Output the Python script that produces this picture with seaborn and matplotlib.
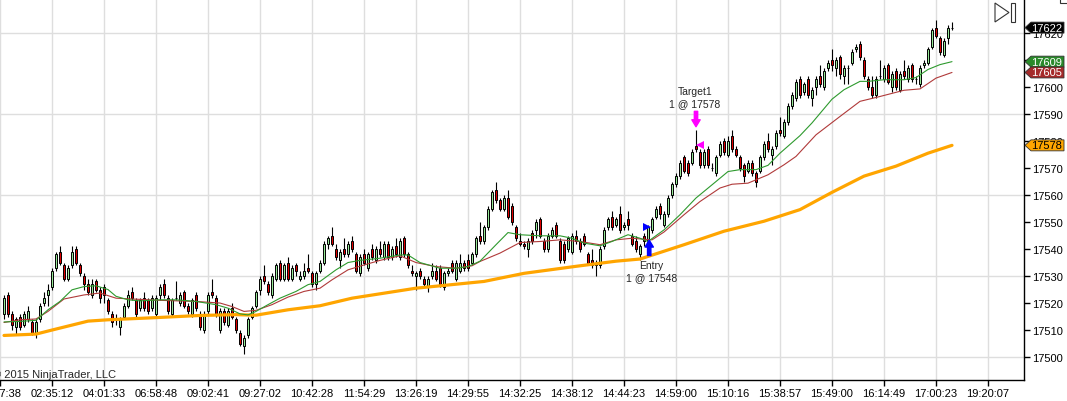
import matplotlib
matplotlib.use("Agg")
import matplotlib.pyplot as plt
import matplotlib.patches as mpatches
from matplotlib.transforms import blended_transform_factory
import numpy as np
import seaborn as sns

# OHLC per bar (YM futures, 1 point ticks)
opens = [
    17516, 17523, 17516, 17511, 17515, 17512, 17514, 17513, 17509, 17514,
    17520, 17523, 17526, 17533, 17539, 17534, 17529, 17534, 17540, 17534,
    17530, 17527, 17523, 17528, 17525, 17526, 17521, 17516, 17514, 17511,
    17515, 17519, 17524, 17521, 17518, 17522, 17521, 17518, 17516, 17523,
    17527, 17522, 17516, 17522, 17520, 17524, 17519, 17516, 17523, 17516,
    17510, 17517, 17524, 17522, 17510, 17517, 17512, 17518, 17514, 17509,
    17504, 17508, 17515, 17519, 17525, 17530, 17527, 17523, 17529, 17535,
    17529, 17535, 17529, 17534, 17529, 17530, 17533, 17531, 17527, 17532,
    17535, 17542, 17545, 17540, 17536, 17540, 17538, 17543, 17538, 17531,
    17538, 17533, 17540, 17536, 17540, 17537, 17542, 17537, 17541, 17537,
    17544, 17538, 17532, 17530, 17532, 17529, 17526, 17530, 17532, 17533,
    17526, 17531, 17535, 17529, 17532, 17535, 17536, 17535, 17538, 17545,
    17543, 17548, 17555, 17562, 17558, 17555, 17559, 17556, 17548, 17543,
    17542, 17540, 17546, 17547, 17551, 17543, 17540, 17545, 17549, 17543,
    17542, 17540, 17539, 17545, 17543, 17545, 17538, 17536, 17534, 17534,
    17541, 17548, 17552, 17549, 17553, 17548, 17551, 17545, 17543, 17538,
    17545, 17542, 17547, 17552, 17556, 17549, 17553, 17560, 17564, 17567,
    17574, 17572, 17572, 17578, 17576, 17571, 17577, 17570, 17568, 17575,
    17580, 17575, 17582, 17577, 17574, 17571, 17569, 17572, 17568, 17569,
    17574, 17580, 17575, 17578, 17584, 17582, 17587, 17593, 17596, 17603,
    17598, 17603, 17596, 17600, 17604, 17600, 17607, 17610, 17607, 17611,
    17604, 17607, 17609, 17614, 17616, 17610, 17603, 17600, 17597, 17604,
    17603, 17608, 17600, 17606, 17599, 17606, 17603, 17608, 17603, 17601,
    17608, 17609, 17615, 17622, 17618, 17612, 17618, 17622,
]
highs = [
    17523, 17524, 17517, 17515, 17516, 17517, 17519, 17514, 17514, 17520,
    17524, 17527, 17533, 17539, 17541, 17535, 17534, 17541, 17541, 17535,
    17531, 17529, 17529, 17529, 17526, 17527, 17522, 17517, 17516, 17515,
    17520, 17525, 17526, 17522, 17522, 17524, 17522, 17523, 17523, 17527,
    17529, 17523, 17522, 17528, 17524, 17525, 17520, 17522, 17524, 17517,
    17517, 17524, 17529, 17523, 17518, 17518, 17518, 17520, 17515, 17510,
    17508, 17515, 17519, 17525, 17530, 17534, 17528, 17531, 17535, 17536,
    17535, 17537, 17534, 17535, 17532, 17535, 17538, 17532, 17532, 17536,
    17543, 17545, 17548, 17542, 17540, 17544, 17543, 17545, 17539, 17538,
    17540, 17539, 17542, 17541, 17543, 17543, 17543, 17541, 17544, 17544,
    17545, 17539, 17534, 17532, 17533, 17530, 17530, 17535, 17534, 17534,
    17532, 17533, 17536, 17536, 17538, 17536, 17538, 17539, 17545, 17550,
    17549, 17556, 17562, 17565, 17559, 17560, 17562, 17557, 17549, 17546,
    17543, 17544, 17547, 17551, 17552, 17544, 17546, 17548, 17550, 17544,
    17543, 17545, 17546, 17547, 17544, 17546, 17539, 17540, 17536, 17541,
    17548, 17552, 17554, 17552, 17556, 17550, 17554, 17546, 17545, 17542,
    17546, 17549, 17552, 17556, 17557, 17554, 17560, 17565, 17568, 17573,
    17575, 17573, 17577, 17584, 17577, 17577, 17578, 17572, 17575, 17580,
    17581, 17582, 17584, 17578, 17575, 17572, 17573, 17573, 17569, 17575,
    17580, 17583, 17578, 17584, 17589, 17588, 17594, 17598, 17603, 17604,
    17602, 17604, 17600, 17604, 17608, 17607, 17610, 17614, 17611, 17612,
    17608, 17608, 17614, 17616, 17617, 17611, 17604, 17604, 17604, 17610,
    17608, 17609, 17606, 17607, 17606, 17610, 17608, 17609, 17604, 17608,
    17610, 17615, 17622, 17625, 17619, 17618, 17623, 17624,
]
lows = [
    17514, 17515, 17510, 17508, 17510, 17511, 17513, 17508, 17507, 17513,
    17519, 17519, 17525, 17532, 17534, 17528, 17528, 17533, 17534, 17530,
    17525, 17523, 17522, 17524, 17520, 17520, 17516, 17511, 17512, 17508,
    17514, 17518, 17521, 17515, 17517, 17517, 17516, 17517, 17515, 17521,
    17522, 17516, 17515, 17521, 17519, 17518, 17516, 17515, 17517, 17510,
    17509, 17516, 17522, 17515, 17509, 17512, 17511, 17514, 17509, 17504,
    17501, 17507, 17514, 17518, 17523, 17527, 17523, 17522, 17528, 17528,
    17528, 17528, 17528, 17530, 17528, 17529, 17531, 17526, 17525, 17531,
    17534, 17540, 17541, 17536, 17533, 17537, 17537, 17539, 17531, 17530,
    17534, 17532, 17536, 17535, 17537, 17536, 17536, 17536, 17537, 17536,
    17537, 17533, 17530, 17525, 17529, 17526, 17524, 17529, 17528, 17526,
    17525, 17530, 17531, 17528, 17531, 17532, 17532, 17534, 17537, 17542,
    17542, 17547, 17554, 17557, 17554, 17554, 17551, 17549, 17543, 17541,
    17540, 17537, 17542, 17544, 17544, 17539, 17539, 17544, 17544, 17535,
    17535, 17539, 17538, 17542, 17539, 17541, 17534, 17533, 17530, 17533,
    17540, 17547, 17547, 17548, 17546, 17547, 17547, 17541, 17539, 17536,
    17541, 17540, 17546, 17551, 17551, 17548, 17552, 17559, 17563, 17566,
    17568, 17567, 17571, 17576, 17570, 17570, 17570, 17569, 17567, 17574,
    17575, 17574, 17576, 17574, 17569, 17565, 17568, 17567, 17563, 17568,
    17573, 17576, 17571, 17577, 17582, 17581, 17586, 17592, 17595, 17596,
    17597, 17596, 17593, 17597, 17600, 17599, 17606, 17606, 17604, 17603,
    17601, 17601, 17608, 17613, 17610, 17603, 17599, 17596, 17596, 17603,
    17602, 17601, 17598, 17599, 17598, 17603, 17602, 17602, 17601, 17600,
    17607, 17608, 17614, 17618, 17612, 17611, 17616, 17621,
]
closes = [
    17522, 17516, 17512, 17514, 17511, 17516, 17517, 17509, 17513, 17519,
    17522, 17525, 17532, 17538, 17535, 17529, 17533, 17539, 17535, 17531,
    17527, 17524, 17527, 17525, 17522, 17523, 17517, 17513, 17514, 17514,
    17519, 17523, 17522, 17516, 17521, 17518, 17517, 17522, 17522, 17526,
    17523, 17517, 17521, 17522, 17523, 17519, 17517, 17521, 17518, 17511,
    17516, 17523, 17523, 17516, 17517, 17513, 17517, 17515, 17510, 17505,
    17507, 17514, 17518, 17524, 17529, 17528, 17524, 17530, 17534, 17529,
    17534, 17529, 17533, 17532, 17530, 17532, 17532, 17527, 17531, 17535,
    17542, 17544, 17542, 17537, 17539, 17538, 17542, 17540, 17532, 17537,
    17535, 17538, 17537, 17540, 17538, 17542, 17537, 17540, 17538, 17543,
    17538, 17534, 17531, 17531, 17530, 17527, 17529, 17532, 17529, 17527,
    17531, 17532, 17532, 17535, 17535, 17533, 17533, 17538, 17544, 17543,
    17548, 17555, 17561, 17558, 17555, 17559, 17552, 17550, 17544, 17542,
    17541, 17543, 17543, 17550, 17545, 17540, 17545, 17547, 17545, 17536,
    17536, 17544, 17545, 17543, 17540, 17542, 17535, 17534, 17535, 17540,
    17547, 17551, 17548, 17551, 17547, 17549, 17549, 17542, 17540, 17541,
    17543, 17548, 17551, 17555, 17553, 17553, 17559, 17564, 17567, 17572,
    17569, 17568, 17576, 17577, 17571, 17576, 17571, 17570, 17574, 17579,
    17576, 17580, 17577, 17575, 17570, 17567, 17572, 17568, 17565, 17574,
    17579, 17577, 17577, 17583, 17583, 17587, 17593, 17597, 17602, 17597,
    17601, 17597, 17599, 17603, 17601, 17606, 17609, 17608, 17610, 17605,
    17607, 17607, 17613, 17615, 17611, 17604, 17600, 17597, 17603, 17604,
    17607, 17602, 17605, 17600, 17605, 17604, 17607, 17603, 17603, 17607,
    17609, 17614, 17621, 17619, 17613, 17617, 17622, 17622,
]

# moving averages, sampled along each line
fast_bars = [0, 4, 8, 11, 14, 17, 20, 23, 26, 28, 31, 34, 39, 43, 48, 53, 56,
             59, 61, 63, 66, 69, 73, 76, 79, 83, 86, 89, 94, 99, 101, 104, 109,
             113, 116, 119, 123, 126, 129, 134, 139, 142, 145, 149, 152, 156,
             159, 161, 165, 169, 173, 178, 181, 184, 188, 191, 194, 199, 202,
             207, 210, 214, 216, 220, 225, 228, 231, 234, 237]
fast_vals = [17513.0, 17513.2, 17513.6, 17517.5, 17520.6, 17524.9, 17526.1,
             17526.4, 17525.0, 17522.5, 17521.2, 17520.8, 17521.2, 17521.2,
             17520.6, 17519.4, 17518.1, 17516.0, 17515.6, 17516.9, 17519.4,
             17521.8, 17524.3, 17526.8, 17528.0, 17532.3, 17535.0, 17535.8,
             17536.6, 17537.8, 17537.8, 17535.0, 17532.9, 17532.9, 17533.5,
             17535.5, 17541.6, 17546.1, 17545.3, 17544.9, 17544.9, 17544.0,
             17542.2, 17541.2, 17542.8, 17545.3, 17544.0, 17542.8, 17547.1,
             17552.7, 17558.9, 17565.0, 17568.7, 17569.4, 17569.4, 17571.0,
             17575.5, 17582.0, 17586.7, 17595.5, 17599.0, 17602.1, 17602.1,
             17602.7, 17602.7, 17603.5, 17606.5, 17608.3, 17609.4]

slow_bars = [0, 4, 8, 11, 15, 20, 24, 28, 32, 39, 48, 54, 57, 60, 63, 67, 71,
             75, 79, 82, 86, 90, 94, 99, 103, 108, 113, 117, 119, 124, 129,
             134, 139, 144, 149, 153, 157, 162, 165, 170, 174, 179, 182, 186,
             191, 195, 198, 203, 209, 214, 219, 225, 229, 233, 237]
slow_vals = [17512.8, 17513.8, 17514.1, 17516.9, 17521.5, 17523.0, 17523.7,
             17521.8, 17521.5, 17521.0, 17520.6, 17520.0, 17518.7, 17516.9,
             17517.3, 17519.4, 17522.2, 17524.3, 17525.5, 17528.6, 17532.3,
             17534.1, 17535.8, 17537.5, 17535.0, 17533.5, 17532.9, 17533.8,
             17535.4, 17538.5, 17542.4, 17542.8, 17543.4, 17542.8, 17541.6,
             17543.4, 17544.0, 17543.4, 17546.3, 17552.7, 17557.6, 17562.6,
             17564.0, 17564.4, 17567.5, 17571.2, 17574.3, 17582.3, 17589.1,
             17594.7, 17596.5, 17598.8, 17599.3, 17603.3, 17605.4]

long_bars = [0, 8, 12, 21, 26, 38, 49, 58, 63, 71, 79, 87, 103, 120, 130, 143,
             153, 159, 170, 180, 190, 199, 207, 215, 223, 231, 237]
long_vals = [17508.0, 17508.5, 17510.0, 17513.3, 17513.8, 17514.6, 17515.4,
             17515.7, 17515.5, 17517.5, 17519.0, 17521.8, 17525.5, 17528.0,
             17531.0, 17533.6, 17535.5, 17536.3, 17541.6, 17546.6, 17550.3,
             17554.6, 17561.0, 17567.0, 17570.7, 17575.5, 17578.4]

# time axis labels, one every 13 bars
tick_bars = [-1, 12, 25, 38, 51, 64, 77, 90, 103, 116, 129, 142, 155, 168,
             181, 194, 207, 220, 233, 246]
tick_labels = ["00:07:38", "02:35:12", "04:01:33", "06:58:48", "09:02:41",
               "09:27:02", "10:42:28", "11:54:29", "13:26:19", "14:29:55",
               "14:32:25", "14:38:12", "14:44:23", "14:59:00", "15:10:16",
               "15:38:57", "15:49:00", "16:14:49", "17:00:23", "19:20:07"]

entry_bar, entry_price = 161, 17548
target_bar, target_price = 173, 17578

W, H = 1067, 402
sns.set_theme(style="white")
plt.rcParams['font.family'] = ['Liberation Sans', 'DejaVu Sans']

fig = plt.figure(figsize=(W / 100, H / 100), dpi=100)
ax = fig.add_axes([0, 21 / H, 1024 / W, 381 / H])

o = np.array(opens)
h = np.array(highs)
l = np.array(lows)
c = np.array(closes)
x = np.arange(len(c))
up = c >= o

# gridlines
for v in range(17500, 17621, 30):
    ax.axhline(v, color='#dedede', linewidth=1.0, zorder=0)
ax.set_xticks(tick_bars)
ax.set_xticklabels(tick_labels)
ax.grid(axis='x', color='#dedede', linewidth=1.0)
ax.grid(axis='y', visible=False)
ax.set_axisbelow(True)

# candles
ax.vlines(x, l, h, color='black', linewidth=0.8, zorder=3)
ax.bar(x, np.abs(c - o), bottom=np.minimum(o, c), width=0.72,
       color=np.where(up, '#98e898', '#dd0000'), edgecolor='black',
       linewidth=0.7, zorder=4)

# indicators
sns.lineplot(x=long_bars, y=long_vals, color='#ffa500', linewidth=2.3, ax=ax, zorder=5)
sns.lineplot(x=slow_bars, y=slow_vals, color='#b03a3a', linewidth=0.8, ax=ax, zorder=5)
sns.lineplot(x=fast_bars, y=fast_vals, color='#2e9a2e', linewidth=0.8, ax=ax, zorder=5)

# executions
ax.plot([entry_bar - 0.3], [entry_price], marker='>', color='#0000ff',
        markersize=6, markeredgewidth=0, zorder=6)
ax.annotate('', xy=(entry_bar + 0.3, 17543.3), xytext=(entry_bar + 0.3, 17537.6),
            arrowprops=dict(arrowstyle='simple,head_length=0.5,head_width=0.6,tail_width=0.24',
                            color='#0000ff', shrinkA=0, shrinkB=0, mutation_scale=10),
            zorder=6)
ax.text(entry_bar + 0.9, 17534.1, "Entry", fontsize=7.5, ha='center', va='center', zorder=6)
ax.text(entry_bar + 0.9, 17529.6, "1 @ %d" % entry_price, fontsize=7.5,
        ha='center', va='center', zorder=6)

ax.plot([target_bar + 1.0], [target_price + 0.5], marker='<', color='#ff00ff',
        markersize=6, markeredgewidth=0, zorder=6)
ax.annotate('', xy=(target_bar, 17585.3), xytext=(target_bar, 17591.0),
            arrowprops=dict(arrowstyle='simple,head_length=0.5,head_width=0.6,tail_width=0.24',
                            color='#ff00ff', shrinkA=0, shrinkB=0, mutation_scale=10),
            zorder=6)
ax.text(target_bar - 0.3, 17598.5, "Target1", fontsize=7.5, ha='center', va='center', zorder=6)
ax.text(target_bar - 0.3, 17594.1, "1 @ %d" % target_price, fontsize=7.5,
        ha='center', va='center', zorder=6)

# axes styling
ax.set_xlim(-1, 255)
ax.set_ylim(17491.5, 17632.6)
ax.set_yticks(range(17500, 17621, 10))
ax.yaxis.tick_right()
ax.tick_params(axis='y', direction='out', length=4, width=1, labelsize=8,
               pad=2, colors='black', right=True, left=False)
ax.tick_params(axis='x', direction='out', length=4, width=1, labelsize=8,
               pad=2, colors='black', bottom=True)
for side in ['left', 'top']:
    ax.spines[side].set_visible(False)
for side in ['right', 'bottom']:
    ax.spines[side].set_color('black')
    ax.spines[side].set_linewidth(1.0)
ax.set_xlabel('')
ax.set_ylabel('')

# price tags at the right edge
trans = blended_transform_factory(ax.transAxes, ax.transData)
hh = 5.5 / 2.7
tags = [(closes[-1], '#000000', 'white'),
        (fast_vals[-1], '#2a8a2a', 'white'),
        (slow_vals[-1], '#a52a2a', 'white'),
        (long_vals[-1], '#ffa500', 'black')]
for val, face, tc in tags:
    x0 = 1.0 + 1 / 1024
    x1 = 1.0 + 7 / 1024
    x2 = 1.0 + 40 / 1024
    pts = [(x0, val), (x1, val + hh), (x2, val + hh), (x2, val - hh), (x1, val - hh)]
    poly = mpatches.Polygon(pts, closed=True, transform=trans, facecolor=face,
                            edgecolor='#333333', linewidth=0.6, clip_on=False, zorder=10)
    ax.add_patch(poly)
    ax.text(1.0 + 23 / 1024, val, "%d" % round(val), transform=trans, color=tc,
            fontsize=8, ha='center', va='center', clip_on=False, zorder=11)

# chart toolbar glyph and copyright
def fxy(px, py):
    return (px / W, 1 - py / H)

tri = mpatches.Polygon([fxy(995, 4), fxy(995, 23), fxy(1009, 13.5)], closed=True,
                       transform=fig.transFigure, facecolor='white',
                       edgecolor='#333333', linewidth=0.8)
fig.add_artist(tri)
bar_rect = mpatches.Rectangle(fxy(1011, 23), 3.5 / W, 19 / H, transform=fig.transFigure,
                              facecolor='white', edgecolor='#333333', linewidth=0.8)
fig.add_artist(bar_rect)
corner = mpatches.Rectangle(fxy(1060, 4), 14 / W, 10 / H, transform=fig.transFigure,
                            facecolor='white', edgecolor='#333333', linewidth=0.8)
fig.add_artist(corner)

fig.text(-7 / W, 1 - 375 / H, "\u00a9 2015 NinjaTrader, LLC", fontsize=8,
         ha='left', va='center')

fig.savefig('out.png', dpi=100)
